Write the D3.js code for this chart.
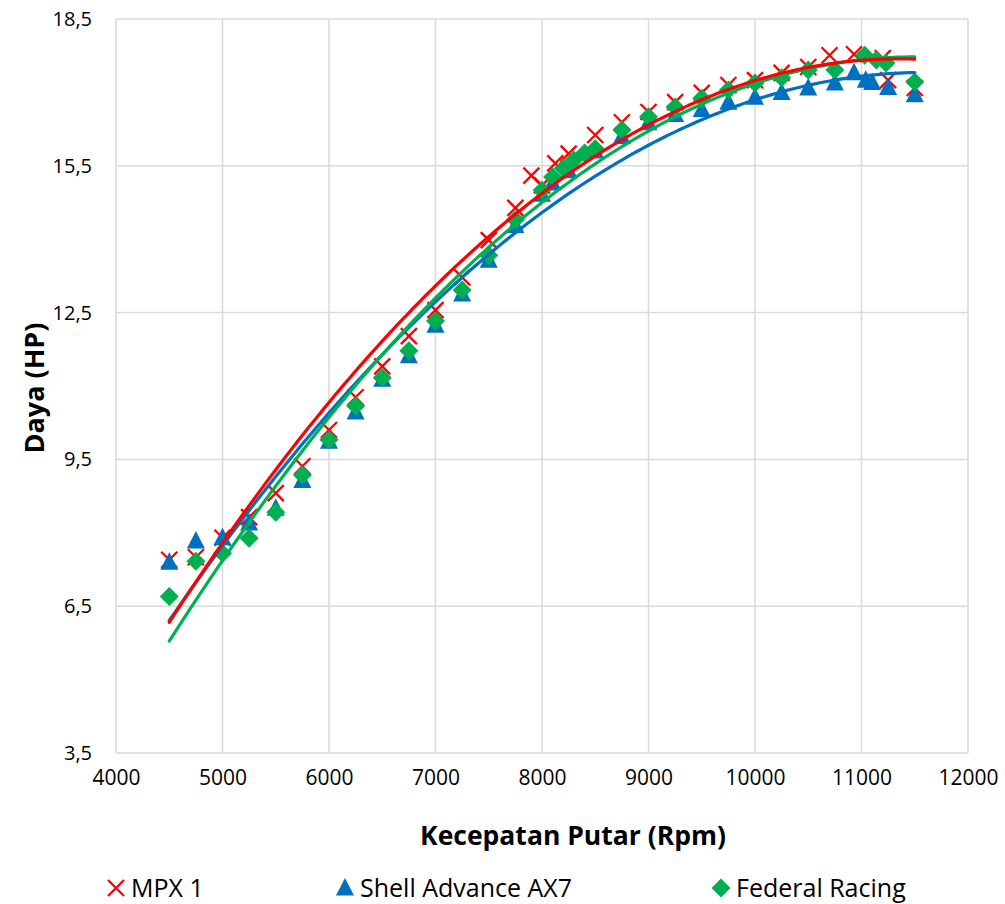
<!DOCTYPE html>
<html><head><meta charset="utf-8">
<script src="https://cdn.jsdelivr.net/npm/d3@7"></script>
<style>body{margin:0;background:#fff;} svg{display:block;}</style>
</head><body>
<svg id="c" width="1005" height="904"></svg>
<script>
const seriesNames = ["MPX 1", "Shell Advance AX7", "Federal Racing"];
const mpxRpm =  [4500,4750,5000,5250,5500,5750,6000,6250,6500,6750,7000,7250,7500,7750,7900,8000,8125,8250,8500,8750,9000,9250,9500,9750,10000,10250,10500,10700,10930,11200,11250,11500];
const mpxHp =   [7.45,7.5,7.9,8.32,8.81,9.36,10.1,10.77,11.4,12.02,12.55,13.22,13.98,14.64,15.3,15.1,15.55,15.75,16.13,16.39,16.6,16.8,16.99,17.15,17.25,17.4,17.52,17.76,17.78,17.7,17.25,17.09];
const shellRpm = [4500,4750,5000,5250,5500,5750,6000,6250,6500,6750,7000,7250,7500,7750,8000,8100,8250,8500,8750,9000,9250,9500,9750,10000,10250,10500,10750,10930,11040,11100,11250,11500];
const shellHp =  [7.4,7.83,7.9,8.2,8.5,9.07,9.87,10.47,11.14,11.62,12.24,12.88,13.57,14.28,14.92,15.15,15.4,15.8,16.1,16.38,16.55,16.65,16.8,16.9,17.0,17.09,17.19,17.4,17.25,17.2,17.1,16.95];
const fedRpm =  [4500,4750,5000,5250,5500,5750,6000,6250,6500,6750,7000,7250,7500,7750,8000,8100,8200,8300,8400,8500,8750,9000,9250,9500,9750,10000,10250,10500,10750,11030,11140,11230,11500];
const fedHp =   [6.7,7.42,7.58,7.89,8.42,9.18,9.9,10.59,11.17,11.72,12.33,12.96,13.67,14.4,15.0,15.27,15.45,15.62,15.76,15.85,16.23,16.5,16.7,16.88,17.05,17.19,17.3,17.46,17.46,17.76,17.66,17.6,17.21];
const xTicks = [4000,5000,6000,7000,8000,9000,10000,11000,12000];
const yTicks = [3.5,6.5,9.5,12.5,15.5,18.5];
const colors = ["#FF0000","#0070C0","#00B050"];

const svg = d3.select("#c");
const L=116, R=968, T=19, B=753;
const x = d3.scaleLinear().domain([4000,12000]).range([L,R]);
const y = d3.scaleLinear().domain([3.5,18.5]).range([B,T]);
const font = "'Open Sans', sans-serif";

// grid
svg.append("g").selectAll("line").data(xTicks).join("line")
  .attr("x1",d=>x(d)).attr("x2",d=>x(d)).attr("y1",T).attr("y2",B)
  .attr("stroke","#d9d9d9").attr("stroke-width",1.5);
svg.append("g").selectAll("line").data(yTicks).join("line")
  .attr("y1",d=>y(d)).attr("y2",d=>y(d)).attr("x1",L).attr("x2",R)
  .attr("stroke","#d9d9d9").attr("stroke-width",1.5);

// axes labels
const fmt = d=>String(d).replace(".",",");
const xa = svg.append("g").attr("transform",`translate(0,${B})`)
  .call(d3.axisBottom(x).tickValues(xTicks).tickSize(0).tickPadding(17).tickFormat(d=>d));
xa.select(".domain").remove();
xa.selectAll("text").attr("font-family",font).attr("font-size",21).attr("fill","#000");
const ya = svg.append("g").attr("transform",`translate(${L},0)`)
  .call(d3.axisLeft(y).tickValues(yTicks).tickSize(0).tickPadding(24).tickFormat(fmt));
ya.select(".domain").remove();
ya.selectAll("text").attr("font-family",font).attr("font-size",20).attr("fill","#000");

svg.append("text").attr("x",573).attr("y",845).attr("text-anchor","middle")
  .attr("font-family",font).attr("font-weight","bold").attr("font-size",26.5)
  .text("Kecepatan Putar (Rpm)");
svg.append("text").attr("transform","translate(44,388) rotate(-90)").attr("text-anchor","middle")
  .attr("font-family",font).attr("font-weight","bold").attr("font-size",27)
  .text("Daya (HP)");

const series = [
  {name:seriesNames[0], xs:mpxRpm, ys:mpxHp, color:colors[0], shape:"x"},
  {name:seriesNames[1], xs:shellRpm, ys:shellHp, color:colors[1], shape:"tri"},
  {name:seriesNames[2], xs:fedRpm, ys:fedHp, color:colors[2], shape:"dia"}
];

function drawMarker(g, shape, color, cx, cy){
  if(shape==="x"){
    const s=8;
    g.append("path").attr("d",`M${cx-s},${cy-s}L${cx+s},${cy+s}M${cx-s},${cy+s}L${cx+s},${cy-s}`)
     .attr("stroke",color).attr("stroke-width",2.3).attr("fill","none");
  } else if(shape==="tri"){
    g.append("path").attr("d",`M${cx},${cy-10}L${cx+9},${cy+7.5}L${cx-9},${cy+7.5}Z`).attr("fill",color);
  } else {
    g.append("path").attr("d",`M${cx},${cy-9.5}L${cx+9.5},${cy}L${cx},${cy+9.5}L${cx-9.5},${cy}Z`).attr("fill",color);
  }
}

const mg = svg.append("g");
series.forEach(s=>{
  s.xs.forEach((xv,i)=>drawMarker(mg,s.shape,s.color,x(xv),y(s.ys[i])));
});

// quadratic least squares trendline
function quadFit(xs,ys){
  const n=xs.length; const u=xs.map(v=>v/1000);
  let S=[0,0,0,0,0], Ty=[0,0,0];
  for(let i=0;i<n;i++){ let p=1; for(let k=0;k<5;k++){S[k]+=p; if(k<3)Ty[k]+=p*ys[i]; p*=u[i];} }
  const A=[[S[0],S[1],S[2],Ty[0]],[S[1],S[2],S[3],Ty[1]],[S[2],S[3],S[4],Ty[2]]];
  for(let c=0;c<3;c++){ for(let r=c+1;r<3;r++){ const f=A[r][c]/A[c][c]; for(let k=c;k<4;k++)A[r][k]-=f*A[c][k]; } }
  const co=[0,0,0];
  for(let r=2;r>=0;r--){ let s=A[r][3]; for(let k=r+1;k<3;k++)s-=A[r][k]*co[k]; co[r]=s/A[r][r]; }
  return v=>{const t=v/1000; return co[0]+co[1]*t+co[2]*t*t;};
}
const lg = svg.append("g");
[1,2,0].forEach(idx=>{
  const s=series[idx]; const f=quadFit(s.xs,s.ys);
  const xmin=d3.min(s.xs), xmax=d3.max(s.xs);
  const pts=d3.range(xmin,xmax+1,50).map(v=>[v,f(v)]);
  lg.append("path").datum(pts).attr("d",d3.line().x(d=>x(d[0])).y(d=>y(d[1])))
    .attr("fill","none").attr("stroke",s.color).attr("stroke-width",3.2).attr("stroke-linecap","round");
});

// legend
const legX=[116,345,721];
const leg = svg.append("g");
series.forEach((s,i)=>{
  drawMarker(leg,s.shape,s.color,legX[i],888);
  leg.append("text").attr("x",legX[i]+15).attr("y",888).attr("dy","0.36em")
    .attr("font-family",font).attr("font-size",25).text(s.name);
});
</script>
</body></html>
